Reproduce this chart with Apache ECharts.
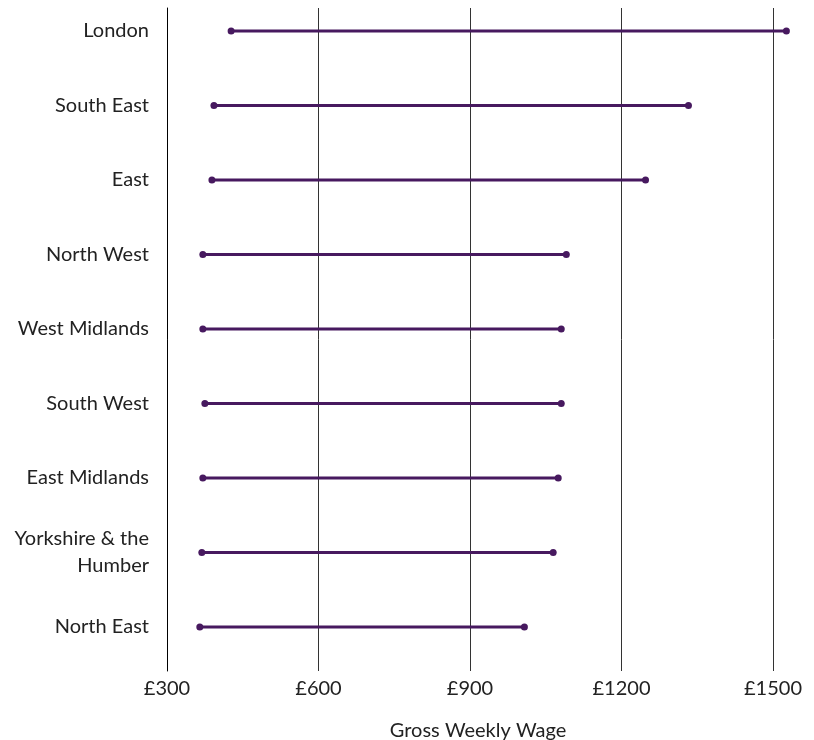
<!DOCTYPE html>
<html>
<head>
<meta charset="utf-8">
<script src="https://cdn.jsdelivr.net/npm/echarts@6/dist/echarts.min.js"></script>
<style>html,body{margin:0;padding:0;background:#fff}#c{width:814px;height:740px}</style>
</head>
<body>
<div id="c"></div>
<script>
const regions = ['London','South East','East','North West','West Midlands','South West','East Midlands','Yorkshire & the\nHumber','North East'];
const lowWage = [427, 393, 389, 371, 371, 375, 371, 369, 365];
const highWage = [1527, 1333, 1248, 1091, 1081, 1081, 1075, 1065, 1008];
const xTicks = [300, 600, 900, 1200, 1500];

const FONT = 'Lato, "Noto Sans", sans-serif';
const PURPLE = '#47195f';
const XMIN = 300, XMAX = 1550;

const chart = echarts.init(document.getElementById('c'));
chart.setOption({
  animation: false,
  grid: [
    {left: 167, right: 16, top: 31, height: 596, containLabel: false, outerBoundsMode: 'none'},
    {left: 167, right: 41, top: 8, height: 663, containLabel: false, outerBoundsMode: 'none'}
  ],
  xAxis: [
    {gridIndex: 0, type: 'value', min: XMIN, max: XMAX, show: false},
    {gridIndex: 1, type: 'value', min: XMIN, max: 1500, interval: 300,
     axisLine: {show: false}, axisTick: {show: false},
     splitLine: {show: true, lineStyle: {color: '#333', width: 1}},
     axisLabel: {color: '#222', fontSize: 20, fontFamily: FONT, margin: 8,
       formatter: v => xTicks.includes(v) ? '£' + v : ''},
     name: 'Gross Weekly Wage', nameLocation: 'middle', nameGap: 50,
     nameTextStyle: {color: '#222', fontSize: 20, fontFamily: FONT, padding: [0, 0, 0, 16]}}
  ],
  yAxis: [
    {gridIndex: 0, type: 'category', data: regions, inverse: true, boundaryGap: false,
     axisLine: {show: false}, axisTick: {show: false}, splitLine: {show: false},
     axisLabel: {color: '#222', fontSize: 20, fontFamily: FONT, margin: 18, lineHeight: 27, align: 'right'}},
    {gridIndex: 1, type: 'value', show: true, min: 0, max: 1,
     axisLine: {show: true, lineStyle: {color: '#000', width: 1}},
     axisTick: {show: false}, axisLabel: {show: false}, splitLine: {show: false}}
  ],
  series: [
    {
      type: 'custom', xAxisIndex: 0, yAxisIndex: 0,
      data: regions.map((r, i) => [i, lowWage[i], highWage[i]]),
      encode: {y: 0, x: [1, 2]},
      renderItem: (params, api) => {
        const a = api.coord([api.value(1), api.value(0)]);
        const b = api.coord([api.value(2), api.value(0)]);
        return {type: 'line', shape: {x1: a[0], y1: a[1], x2: b[0], y2: b[1]},
                style: {stroke: PURPLE, lineWidth: 3}};
      },
      z: 3
    },
    {type: 'scatter', xAxisIndex: 0, yAxisIndex: 0, symbolSize: 7,
     itemStyle: {color: PURPLE, opacity: 1},
     data: regions.map((r, i) => [lowWage[i], i]), z: 4},
    {type: 'scatter', xAxisIndex: 0, yAxisIndex: 0, symbolSize: 7,
     itemStyle: {color: PURPLE, opacity: 1},
     data: regions.map((r, i) => [highWage[i], i]), z: 4}
  ]
});
</script>
</body>
</html>
